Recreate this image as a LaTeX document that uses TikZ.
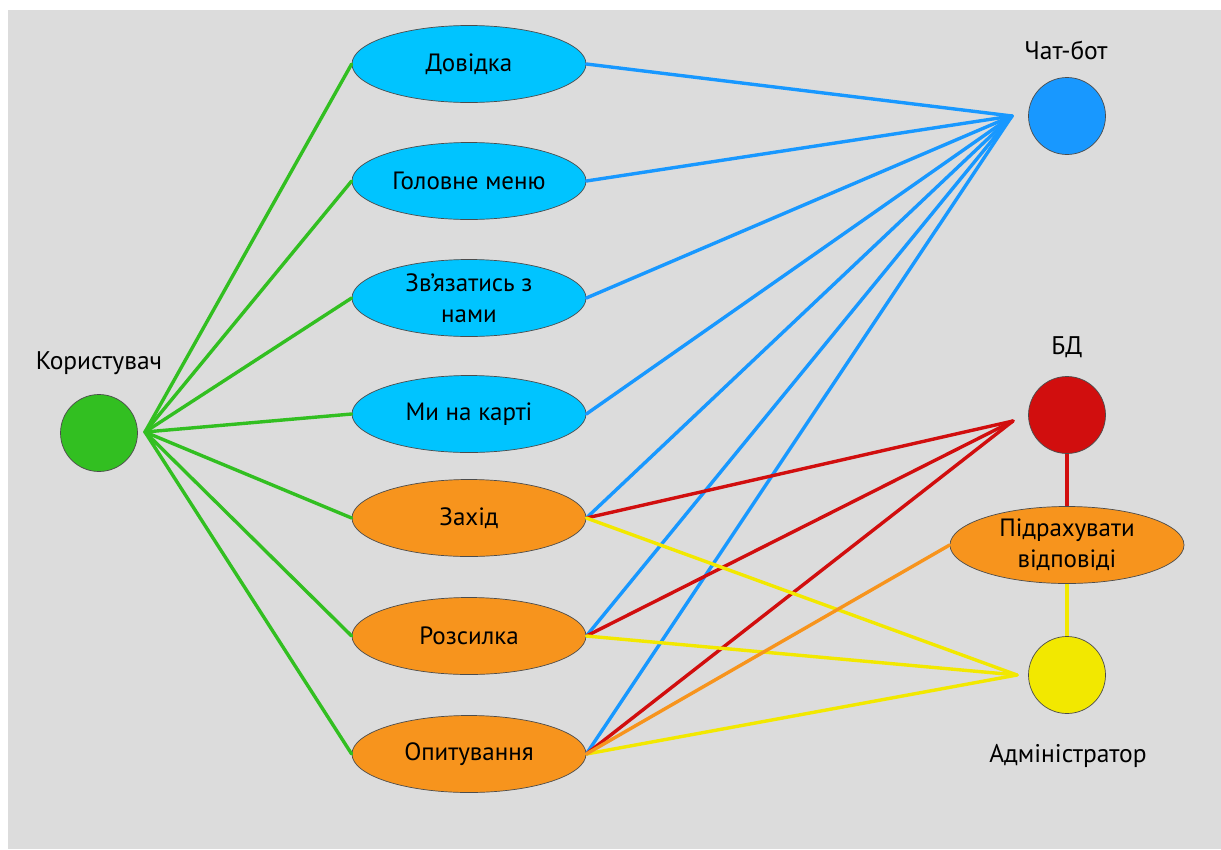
\documentclass[tikz,border=0pt]{standalone}
\usepackage{fontspec}
\setmainfont{PT Sans}
\usepackage{tikz}
\usetikzlibrary{shapes.geometric}

\definecolor{bggray}{HTML}{DCDCDC}
\definecolor{ucblue}{HTML}{00C4FF}
\definecolor{ucorange}{HTML}{F7941D}
\definecolor{usergreen}{HTML}{32BF21}
\definecolor{botblue}{HTML}{1898FF}
\definecolor{dbred}{HTML}{D10E0E}
\definecolor{adminyellow}{HTML}{F2E800}

\tikzset{
    usecase/.style={ellipse, draw=black!70, line width=0.7pt, minimum width=234pt,
        minimum height=77pt, inner sep=0pt, align=center, font=\fontsize{25}{31}\selectfont},
    actor/.style={circle, draw=black!70, line width=0.7pt, minimum size=77pt, inner sep=0pt},
    actorlabel/.style={font=\fontsize{25.5}{30}\selectfont},
    link/.style={line width=3.4pt, line cap=round}
}

\begin{document}
\begin{tikzpicture}[x=1pt, y=-1pt]
        % Page and background
        \useasboundingbox (0,0) rectangle (1221,849);
        \fill[white] (0,0) rectangle (1221,849);
        \fill[bggray] (8,10) rectangle (1221,849);

        % --- Actors ---
        \node[actor, fill=usergreen] (user) at (99,433) {};
        \node[actorlabel] (userlbl) at (99,363) {Користувач};
        \node[actor, fill=botblue] (bot) at (1067,116) {};
        \node[actorlabel] (botlbl) at (1066,50) {Чат-бот};
        \node[actor, fill=dbred] (db) at (1067,415) {};
        \node[actorlabel] (dblbl) at (1067,347) {БД};
        \node[actor, fill=adminyellow] (admin) at (1067,675) {};
        \node[actorlabel] (adminlbl) at (1068,756) {Адміністратор};

        % --- Use cases ---
        \node[usecase, fill=ucblue] (help) at (469,64) {Довідка};
        \node[usecase, fill=ucblue] (menu) at (469,181) {Головне меню};
        \node[usecase, fill=ucblue] (contact) at (469,298) {Зв’язатись з\\нами};
        \node[usecase, fill=ucblue] (map) at (469,414) {Ми на карті};
        \node[usecase, fill=ucorange] (event) at (469,518) {Захід};
        \node[usecase, fill=ucorange] (mailing) at (469,636) {Розсилка};
        \node[usecase, fill=ucorange] (poll) at (469,754) {Опитування};
        \node[usecase, fill=ucorange] (count) at (1067,545) {Підрахувати\\відповіді};

        % Points where the lines meet
        \coordinate (userpt) at (145,432);
        \coordinate (botpt) at (1012,116);
        \coordinate (dbpt) at (1013,421);
        \coordinate (adminpt) at (1017,675);

        % --- Connectors ---
        \foreach \uc in {help,menu,contact,map,event,mailing,poll}
            \draw[link, usergreen] (userpt) -- (\uc.west);
        \foreach \uc in {help,menu,contact,map,event,mailing,poll}
            \draw[link, botblue] (\uc.east) -- (botpt);
        \foreach \uc in {event,mailing,poll}
            \draw[link, dbred] (\uc.east) -- (dbpt);
        \foreach \uc in {event,mailing,poll}
            \draw[link, adminyellow] (\uc.east) -- (adminpt);
        \draw[link, ucorange] (poll.east) -- (count.west);
        \draw[link, dbred, line cap=butt] (db.south) -- (count.north);
        \draw[link, adminyellow, line cap=butt] (count.south) -- (admin.north);

    \end{tikzpicture}
\end{document}
